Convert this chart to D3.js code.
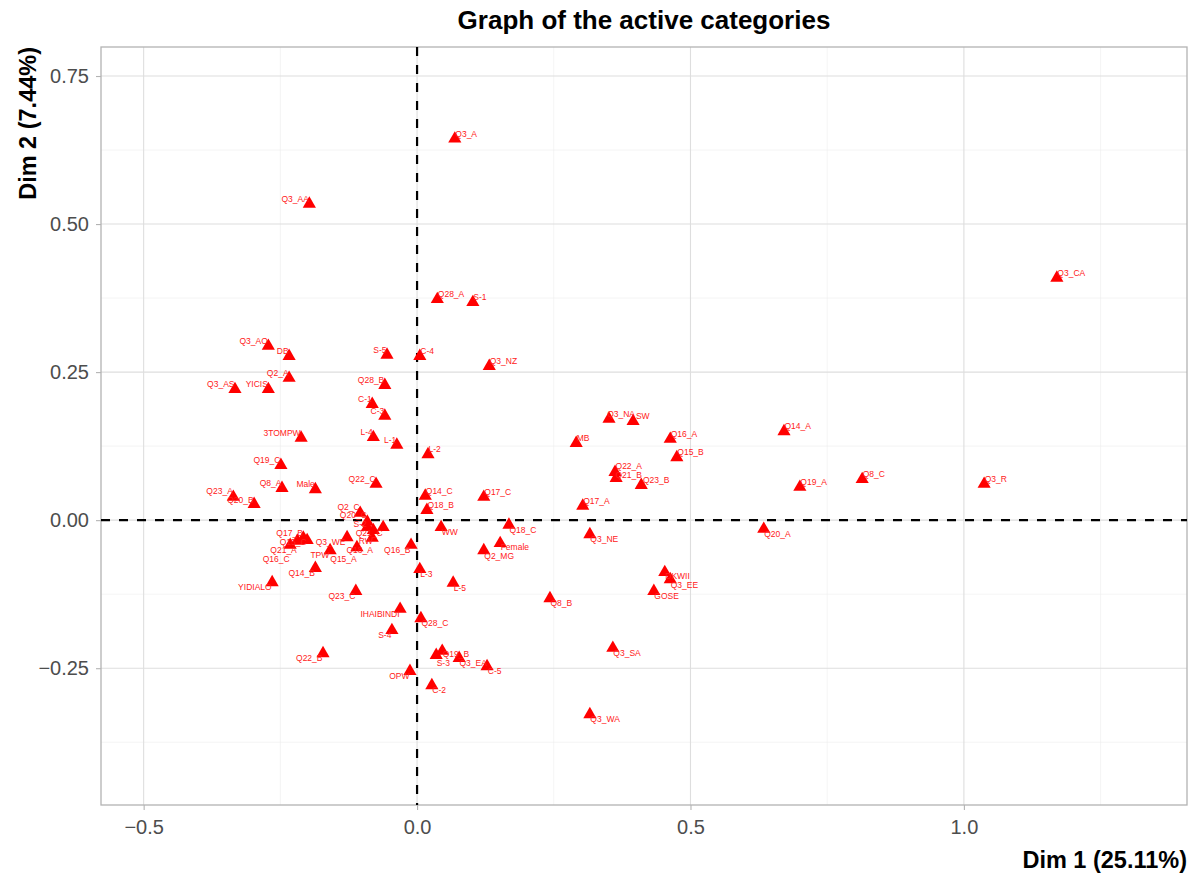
<!DOCTYPE html>
<html>
<head>
<meta charset="utf-8">
<script src="https://cdn.jsdelivr.net/npm/d3@7"></script>
<style>
  body { margin: 0; background: #fff; }
  svg { display: block; font-family: "Liberation Sans", Arial, sans-serif; }
</style>
</head>
<body>
<svg id="chart" width="1197" height="875"></svg>
<script>
// ---- DATA ----
const categories = [
  "Q3_A","Q3_AA","Q3_CA","Q28_A","S-1","Q3_AO","DB","S-5","C-4","Q3_NZ",
  "Q2_A","Q3_AS","YICIS","Q28_B","C-1","C-3","Q3_NA","SW","3TOMPW","L-4",
  "L-1","MB","Q16_A","Q14_A","Q15_B","L-2","Q19_C","Q22_A","Q21_B","Q23_B",
  "Q19_A","Q8_C","Q3_R","Q22_C","Q8_A","Male","Q14_C","Q17_C","Q17_A","Q23_A",
  "Q20_B","Q18_B","Q2_C","WW","Q18_C","Q20_A","Q3_NE","Female","Q2_MG","Q16_B",
  "L-3","DKWII","Q3_EE","GOSE","L-5","Q8_B","YIDIALO","Q14_B","Q23_C","IHAIBINDI",
  "Q28_C","S-4","Q3_SA","Q22_B","Q19_B","S-3","Q3_EA","C-5","OPW","C-2",
  "Q3_WA","Q20_C","S-2","RW","Q21_C","Q18_A","Q3_WE","Q15_A","TPW","Q16_C",
  "Q21_A","Q17_B","Q15_C"
];
const dim1 = [
  0.069,-0.197,1.170,0.037,0.102,-0.272,-0.234,-0.055,0.005,0.132,
  -0.234,-0.333,-0.272,-0.059,-0.082,-0.059,0.351,0.395,-0.212,-0.080,
  -0.037,0.291,0.463,0.671,0.475,0.020,-0.249,0.362,0.364,0.410,
  0.700,0.814,1.037,-0.075,-0.247,-0.186,0.015,0.122,0.303,-0.336,
  -0.298,0.018,-0.104,0.044,0.168,0.634,0.316,0.152,0.122,-0.011,
  0.005,0.453,0.463,0.433,0.066,0.243,-0.265,-0.186,-0.112,-0.031,
  0.007,-0.046,0.358,-0.172,0.046,0.035,0.077,0.128,-0.013,0.027,
  0.316,-0.091,-0.091,-0.080,-0.062,-0.082,-0.128,-0.110,-0.159,-0.232,
  -0.219,-0.208,-0.201
];
const dim2 = [
  0.644,0.534,0.409,0.373,0.368,0.294,0.277,0.279,0.277,0.260,
  0.240,0.221,0.221,0.228,0.196,0.176,0.171,0.167,0.139,0.140,
  0.127,0.130,0.137,0.150,0.106,0.111,0.093,0.081,0.071,0.059,
  0.056,0.069,0.061,0.061,0.054,0.052,0.041,0.039,0.024,0.039,
  0.027,0.017,0.012,-0.012,-0.008,-0.015,-0.024,-0.039,-0.051,-0.042,
  -0.083,-0.088,-0.100,-0.120,-0.106,-0.132,-0.105,-0.081,-0.120,-0.150,
  -0.166,-0.186,-0.216,-0.225,-0.221,-0.228,-0.233,-0.247,-0.255,-0.279,
  -0.328,-0.003,-0.012,-0.017,-0.012,-0.030,-0.029,-0.046,-0.051,-0.042,
  -0.035,-0.030,-0.034
];
const xTicks = [-0.5, 0.0, 0.5, 1.0];
const xMinor = [-0.25, 0.25, 0.75, 1.25];
const yTicks = [-0.25, 0.00, 0.25, 0.50, 0.75];
const yMinor = [-0.375, -0.125, 0.125, 0.375, 0.625];
const titleText = "Graph of the active categories";
const xTitle = "Dim 1 (25.11%)";
const yTitle = "Dim 2 (7.44%)";

// ---- LAYOUT ----
const P = { left: 101, right: 1187, top: 47, bottom: 805 };
const svg = d3.select("#chart");
const x = d3.scaleLinear().domain([-0.578, 1.408]).range([P.left, P.right]);
const y = d3.scaleLinear().domain([-0.481, 0.799]).range([P.bottom, P.top]);

// grid
const g = svg.append("g");
g.selectAll(".vmin").data(xMinor).join("line")
  .attr("x1", d => x(d)).attr("x2", d => x(d)).attr("y1", P.top).attr("y2", P.bottom)
  .attr("stroke", "#ededed").attr("stroke-width", 0.6);
g.selectAll(".hmin").data(yMinor).join("line")
  .attr("y1", d => y(d)).attr("y2", d => y(d)).attr("x1", P.left).attr("x2", P.right)
  .attr("stroke", "#ededed").attr("stroke-width", 0.6);
g.selectAll(".vmaj").data(xTicks).join("line")
  .attr("x1", d => x(d)).attr("x2", d => x(d)).attr("y1", P.top).attr("y2", P.bottom)
  .attr("stroke", "#dedede").attr("stroke-width", 1.1);
g.selectAll(".hmaj").data(yTicks).join("line")
  .attr("y1", d => y(d)).attr("y2", d => y(d)).attr("x1", P.left).attr("x2", P.right)
  .attr("stroke", "#dedede").attr("stroke-width", 1.1);

// axes
const xAxis = svg.append("g").attr("transform", `translate(0,${P.bottom})`)
  .call(d3.axisBottom(x).tickValues(xTicks).tickFormat(d3.format(".1f")).tickSize(5).tickPadding(10));
const yAxis = svg.append("g").attr("transform", `translate(${P.left},0)`)
  .call(d3.axisLeft(y).tickValues(yTicks).tickFormat(d3.format(".2f")).tickSize(5).tickPadding(7));
[xAxis, yAxis].forEach(a => {
  a.select(".domain").remove();
  a.selectAll(".tick line").attr("stroke", "#b3b3b3").attr("stroke-width", 1.1);
  a.selectAll(".tick text").attr("fill", "#4d4d4d").style("font-size", "20px")
    .style("font-family", "'Liberation Sans', Arial, sans-serif");
});

// panel border
svg.append("rect").attr("x", P.left).attr("y", P.top)
  .attr("width", P.right - P.left).attr("height", P.bottom - P.top)
  .attr("fill", "none").attr("stroke", "#b3b3b3").attr("stroke-width", 1.3);

// reference dashed lines
svg.append("line").attr("x1", x(0)).attr("x2", x(0)).attr("y1", P.top).attr("y2", P.bottom)
  .attr("stroke", "#000").attr("stroke-width", 2.2).attr("stroke-dasharray", "9,9");
svg.append("line").attr("y1", y(0)).attr("y2", y(0)).attr("x1", P.left).attr("x2", P.right)
  .attr("stroke", "#000").attr("stroke-width", 2.2).attr("stroke-dasharray", "9,9");

// points
const pts = categories.map((c, i) => ({ name: c, d1: dim1[i], d2: dim2[i] }));
svg.append("g").selectAll("path").data(pts).join("path")
  .attr("d", d3.symbol().type(d3.symbolTriangle).size(75))
  .attr("transform", d => `translate(${x(d.d1)},${y(d.d2)})`)
  .attr("fill", "#ff0000");

// labels with simple repel
const lg = svg.append("g");
const texts = lg.selectAll("text").data(pts).join("text")
  .text(d => d.name).attr("fill", "#ff2020")
  .style("font-size", "8.5px").attr("text-anchor", "middle");
const LH = 9;
pts.forEach((d, i) => {
  d.w = texts.nodes()[i].getComputedTextLength() + 1;
  d.px = x(d.d1); d.py = y(d.d2);
  const sx = d.d1 >= 0 ? 1 : -1;
  const sy = d.d2 >= 0 ? -1 : 1;
  d.ix = d.px + sx * d.w / 2;
  d.iy = d.py + sy * 5;
  d.lx = d.ix; d.ly = d.iy;
});
for (let it = 0; it < 500; it++) {
  for (let i = 0; i < pts.length; i++) {
    for (let j = i + 1; j < pts.length; j++) {
      const a = pts[i], b = pts[j];
      const ox = (a.w + b.w) / 2 - Math.abs(a.lx - b.lx);
      const oy = LH - Math.abs(a.ly - b.ly);
      if (ox > 0 && oy > 0) {
        if (oy < ox) {
          const s = (a.ly < b.ly || (a.ly === b.ly && i < j)) ? -1 : 1;
          a.ly += s * oy * 0.4; b.ly -= s * oy * 0.4;
        } else {
          const s = (a.lx < b.lx || (a.lx === b.lx && i < j)) ? -1 : 1;
          a.lx += s * ox * 0.4; b.lx -= s * ox * 0.4;
        }
      }
    }
  }
  pts.forEach(d => {
    d.lx += (d.ix - d.lx) * 0.01;
    d.ly += (d.iy - d.ly) * 0.01;
    d.lx = Math.max(P.left + d.w / 2 + 2, Math.min(P.right - d.w / 2 - 2, d.lx));
  });
}
texts.attr("x", d => d.lx).attr("y", d => d.ly + 3);

// titles
svg.append("text").attr("x", (P.left + P.right) / 2).attr("y", 29)
  .attr("text-anchor", "middle").style("font-size", "26px").style("font-weight", "bold")
  .attr("fill", "#000").text(titleText);
svg.append("text").attr("x", P.right).attr("y", 868)
  .attr("text-anchor", "end").style("font-size", "23.5px").style("font-weight", "bold")
  .attr("fill", "#000").text(xTitle);
svg.append("text").attr("transform", `translate(36,${P.top}) rotate(-90)`)
  .attr("text-anchor", "end").style("font-size", "23.5px").style("font-weight", "bold")
  .attr("fill", "#000").text(yTitle);
</script>
</body>
</html>
